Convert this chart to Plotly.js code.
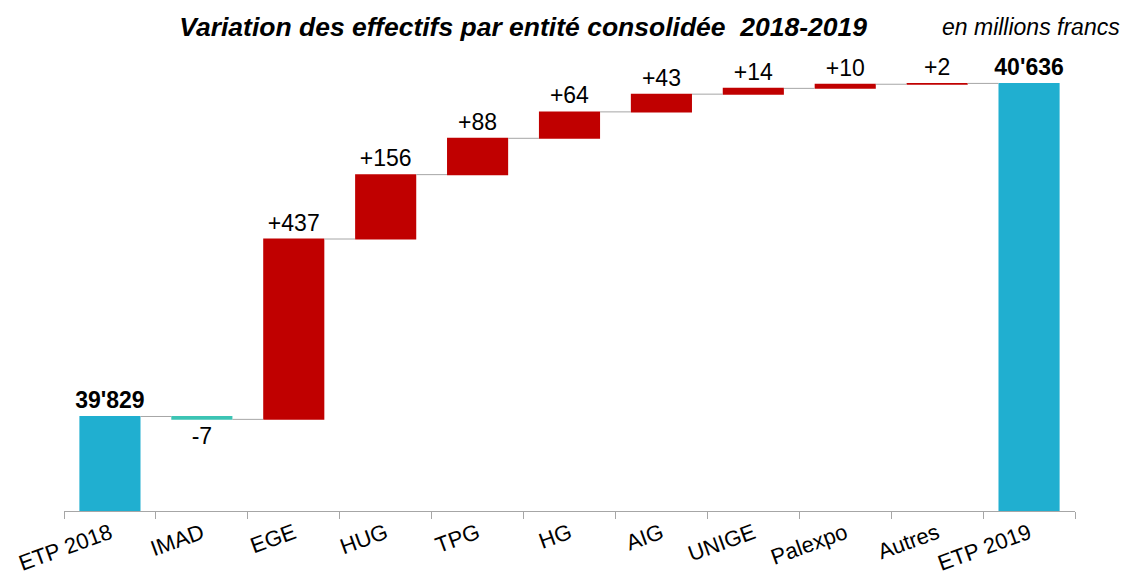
<!DOCTYPE html>
<html>
<head>
<meta charset="utf-8">
<script src="https://cdn.plot.ly/plotly-3.0.1.min.js"></script>
<style>
  html, body { margin: 0; padding: 0; background: #fff; }
  #chart { width: 1125px; height: 578px; }
</style>
</head>
<body>
<div id="chart"></div>
<script>
// Entities, in chart order
const categories = ['ETP 2018', 'IMAD', 'EGE', 'HUG', 'TPG', 'HG', 'AIG', 'UNIGE', 'Palexpo', 'Autres', 'ETP 2019'];
// Start value, then yearly changes per entity, closing total computed by plotly
const values = [39829, -7, 437, 156, 88, 64, 43, 14, 10, 2, 0];
const measures = ['absolute', 'relative', 'relative', 'relative', 'relative', 'relative',
  'relative', 'relative', 'relative', 'relative', 'total'];

function fmtThousands(n) {
  return String(Math.round(n)).replace(/\B(?=(\d{3})+(?!\d))/g, "'");
}

// Running total for the closing label
let running = 0;
const labels = values.map((v, i) => {
  if (measures[i] === 'absolute') { running = v; return '<b>' + fmtThousands(v) + '</b>'; }
  if (measures[i] === 'total') return '<b>' + fmtThousands(running) + '</b>';
  running += v;
  return (v > 0 ? '+' : '') + v;
});

const trace = {
  type: 'waterfall',
  x: categories,
  y: values,
  measure: measures,
  text: labels,
  textposition: 'outside',
  constraintext: 'none',
  textfont: { family: 'Liberation Sans, Arial, sans-serif', size: 23, color: '#000' },
  cliponaxis: false,
  increasing: { marker: { color: '#C00000' } },
  decreasing: { marker: { color: '#3CC4B4' } },
  totals: { marker: { color: '#20AFD0' } },
  connector: { line: { color: '#A6A6A6', width: 1 } },
  hoverinfo: 'skip'
};

const layout = {
  width: 1125,
  height: 578,
  paper_bgcolor: '#FFFFFF',
  plot_bgcolor: '#FFFFFF',
  font: { family: 'Liberation Sans, Arial, sans-serif', color: '#000' },
  showlegend: false,
  waterfallgap: 0.335,
  margin: { t: 57, r: 50, b: 67, l: 64 },
  title: {
    text: 'Variation des effectifs par entité consolidée  2018-2019',
    font: { size: 26.5, weight: 'bold', style: 'italic', color: '#000' },
    x: 0.465,
    xanchor: 'center',
    y: 0.953,
    yanchor: 'middle'
  },
  annotations: [{
    text: 'en millions francs',
    xref: 'paper', yref: 'paper',
    x: 1.0465, y: 1.066,
    xanchor: 'right', yanchor: 'middle',
    showarrow: false,
    font: { size: 23, style: 'italic', color: '#000' }
  }],
  xaxis: {
    type: 'category',
    tickson: 'boundaries',
    ticks: 'outside',
    ticklen: 7,
    tickcolor: '#A6A6A6',
    showline: true,
    linecolor: '#A6A6A6',
    linewidth: 1,
    showgrid: false,
    tickangle: -20,
    ticklabelstandoff: 0,
    tickfont: { size: 22, color: '#000' },
    fixedrange: true
  },
  yaxis: {
    range: [39600, 40700],
    visible: false,
    showgrid: false,
    zeroline: false,
    fixedrange: true
  }
};

Plotly.newPlot('chart', [trace], layout, { displayModeBar: false, staticPlot: true });
</script>
</body>
</html>
